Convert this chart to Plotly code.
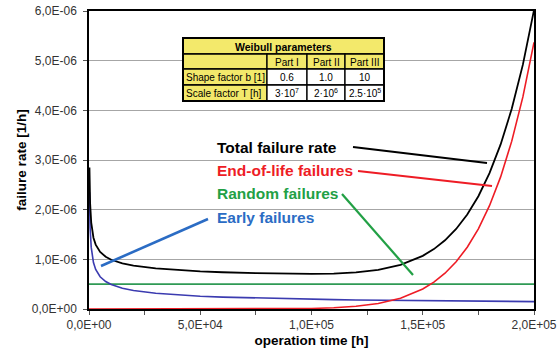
import plotly.graph_objects as go

# ---------------- data ----------------
time_h = [200, 500, 1000, 1500, 2000, 3000, 4000, 5000, 7500, 10000, 15000, 20000,
          30000, 40000, 50000, 60000, 75000, 100000, 110000, 120000, 130000,
          140000, 150000, 155000, 160000, 165000, 170000, 175000, 180000,
          185000, 190000, 195000, 200000]
early = [2.35e-6, 1.63e-6, 1.24e-6, 1.05e-6, 0.936e-6, 0.796e-6, 0.71e-6, 0.649e-6,
         0.552e-6, 0.492e-6, 0.418e-6, 0.373e-6, 0.317e-6, 0.283e-6, 0.258e-6,
         0.240e-6, 0.220e-6, 0.196e-6, 0.188e-6, 0.182e-6, 0.176e-6, 0.171e-6,
         0.167e-6, 0.164e-6, 0.162e-6, 0.160e-6, 0.158e-6, 0.157e-6, 0.155e-6,
         0.153e-6, 0.151e-6, 0.150e-6, 0.148e-6]
end_of_life = [0, 0, 0, 0, 0, 0, 0, 0, 0, 0, 0, 0, 0, 0, 0, 0, 0.001e-6, 0.011e-6,
               0.025e-6, 0.054e-6, 0.111e-6, 0.217e-6, 0.403e-6, 0.542e-6,
               0.721e-6, 0.951e-6, 1.244e-6, 1.614e-6, 2.080e-6, 2.660e-6,
               3.380e-6, 4.270e-6, 5.370e-6]
total = [2.85e-6, 2.13e-6, 1.74e-6, 1.55e-6, 1.436e-6, 1.296e-6, 1.21e-6, 1.149e-6,
         1.052e-6, 0.992e-6, 0.918e-6, 0.873e-6, 0.817e-6, 0.783e-6, 0.758e-6,
         0.740e-6, 0.721e-6, 0.707e-6, 0.713e-6, 0.736e-6, 0.787e-6, 0.888e-6,
         1.070e-6, 1.206e-6, 1.383e-6, 1.611e-6, 1.902e-6, 2.271e-6, 2.735e-6,
         3.313e-6, 4.031e-6, 4.920e-6, 6.018e-6]
random_t = [0, 200000]
random_rate = [0.5e-6, 0.5e-6]

x_tickvals = [0, 50000, 100000, 150000, 200000]
x_ticktext = ["0,0E+00", "5,0E+04", "1,0E+05", "1,5E+05", "2,0E+05"]
y_tickvals = [0, 1e-6, 2e-6, 3e-6, 4e-6, 5e-6, 6e-6]
y_ticktext = ["0,0E+00", "1,0E-06", "2,0E-06", "3,0E-06", "4,0E-06", "5,0E-06", "6,0E-06"]

table_title = "Weibull parameters"
table_parts = ["Part I", "Part II", "Part III"]
table_rows = ["Shape factor b [1]", "Scale factor T [h]"]
shape_vals = ["0.6", "1.0", "10"]
scale_vals = ["3·10<sup>7</sup>", "2·10<sup>6</sup>", "2.5·10<sup>5</sup>"]

label_texts = ["Total failure rate", "End-of-life failures", "Random failures", "Early failures"]

# ---------------- figure ----------------
W, H = 559, 349
L, R, T, B = 89, 25, 11, 40
PW, PH = W - L - R, H - T - B

def px(x):
    return (x - L) / PW

def py(y):
    return (H - B - y) / PH

FONT = "Liberation Sans, Arial, sans-serif"

C_BLACK = "#000000"
C_RED = "#ee1c25"
C_GREEN = "#2f9a55"
C_GREEN_T = "#22a045"
C_BLUE = "#3b3bb0"
C_BLUE_T = "#2b6cc4"

fig = go.Figure()
fig.add_trace(go.Scatter(x=random_t, y=random_rate, mode="lines",
                         line=dict(color=C_GREEN, width=1.6), name="Random failures"))
fig.add_trace(go.Scatter(x=time_h, y=early, mode="lines",
                         line=dict(color=C_BLUE, width=1.6), name="Early failures"))
fig.add_trace(go.Scatter(x=[0] + time_h, y=[0] + end_of_life, mode="lines",
                         line=dict(color=C_RED, width=1.6), name="End-of-life failures"))
fig.add_trace(go.Scatter(x=time_h, y=total, mode="lines",
                         line=dict(color=C_BLACK, width=1.8), name="Total failure rate"))

shapes = []
annotations = []

# leader lines
leaders = [
    ((353, 147), (487, 163), C_BLACK, 2),
    ((358, 171), (492, 186), C_RED, 2),
    ((342, 194), (413, 275), C_GREEN_T, 2.2),
    ((208, 219), (101, 266), C_BLUE_T, 2.6),
]
for (x0, y0), (x1, y1), col, w in leaders:
    shapes.append(dict(type="line", xref="paper", yref="paper",
                       x0=px(x0), y0=py(y0), x1=px(x1), y1=py(y1),
                       line=dict(color=col, width=w)))

label_cols = [C_BLACK, C_RED, C_GREEN_T, C_BLUE_T]
label_y = [147, 170, 193, 217]
for txt, col, yy in zip(label_texts, label_cols, label_y):
    annotations.append(dict(text="<b>%s</b>" % txt, xref="paper", yref="paper",
                            x=px(215), y=py(yy), xanchor="left", yanchor="middle",
                            showarrow=False, font=dict(family=FONT, size=15.5, color=col)))

# table
YEL = "#f3e96b"
cols_px = [183, 267, 307, 345, 384]
rows_px = [38, 54, 69, 85, 101]

def cell(x0, x1, y0, y1, fill, text=None, bold=False, align="center"):
    shapes.append(dict(type="rect", xref="paper", yref="paper",
                       x0=px(x0), x1=px(x1), y0=py(y1), y1=py(y0),
                       fillcolor=fill, line=dict(color="black", width=1.3)))
    if text is not None:
        t = "<b>%s</b>" % text if bold else text
        if align == "center":
            ax, xa = (x0 + x1) / 2, "center"
        else:
            ax, xa = x0 + 1, "left"
        annotations.append(dict(text=t, xref="paper", yref="paper",
                                x=px(ax), y=py((y0 + y1) / 2 + 0.5), xanchor=xa,
                                yanchor="middle", showarrow=False,
                                font=dict(family=FONT, size=10.5 if bold else 10,
                                          color="black")))

cell(cols_px[0], cols_px[4], rows_px[0], rows_px[1], YEL, table_title, bold=True)
cell(cols_px[0], cols_px[1], rows_px[1], rows_px[2], YEL)
for i, p in enumerate(table_parts):
    cell(cols_px[i + 1], cols_px[i + 2], rows_px[1], rows_px[2], YEL, p)
cell(cols_px[0], cols_px[1], rows_px[2], rows_px[3], YEL, table_rows[0], align="left")
for i, v in enumerate(shape_vals):
    cell(cols_px[i + 1], cols_px[i + 2], rows_px[2], rows_px[3], "white", v)
cell(cols_px[0], cols_px[1], rows_px[3], rows_px[4], YEL, table_rows[1], align="left")
for i, v in enumerate(scale_vals):
    cell(cols_px[i + 1], cols_px[i + 2], rows_px[3], rows_px[4], "white", v)
shapes.append(dict(type="rect", xref="paper", yref="paper",
                   x0=px(cols_px[0]), x1=px(cols_px[4]), y0=py(rows_px[4]), y1=py(rows_px[0]),
                   line=dict(color="black", width=2)))

fig.update_layout(
    width=W, height=H,
    margin=dict(l=L, r=R, t=T, b=B, pad=0, autoexpand=False),
    paper_bgcolor="white", plot_bgcolor="white",
    showlegend=False,
    font=dict(family=FONT, size=12, color="#333333"),
    shapes=shapes, annotations=annotations,
    xaxis=dict(range=[0, 200000], tickvals=x_tickvals, ticktext=x_ticktext,
               automargin=False,
               showgrid=False, zeroline=False, showline=True, linecolor="black",
               linewidth=1.5, mirror=True, ticks="outside", ticklen=4,
               tickcolor="#555", layer="below traces", ticklabelstandoff=0,
               minor=dict(dtick=25000, ticks="outside", ticklen=4, tickcolor="#555"),
               tickfont=dict(family=FONT, size=12, color="#333333"),
               title=dict(text="<b>operation time [h]</b>", standoff=4,
                          font=dict(family=FONT, size=13.5, color="black"))),
    yaxis=dict(range=[0, 6e-6], tickvals=y_tickvals, ticktext=y_ticktext,
               automargin=False,
               showgrid=True, gridcolor="#a6a6a6", gridwidth=1, zeroline=False,
               showline=True, linecolor="black", linewidth=1.5, mirror=True,
               ticks="outside", ticklen=4, tickcolor="#555", layer="below traces",
               ticklabelstandoff=4,
               tickfont=dict(family=FONT, size=12, color="#333333"),
               title=dict(text="<b>failure rate [1/h]</b>", standoff=2,
                          font=dict(family=FONT, size=13.5, color="black"))),
)

fig.write_html("out.html")
